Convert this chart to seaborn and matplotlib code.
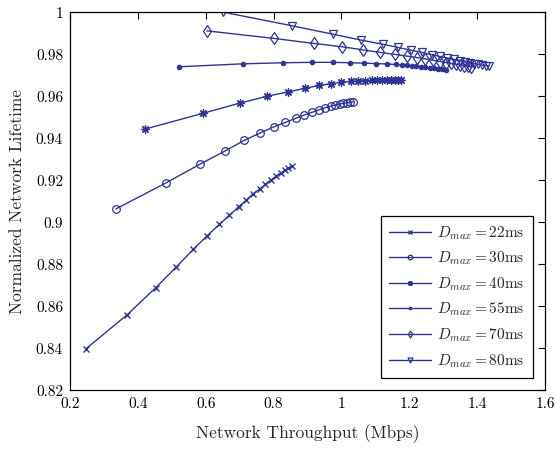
import matplotlib
matplotlib.use("Agg")
import matplotlib.pyplot as plt
import seaborn as sns
import pandas as pd
from matplotlib.ticker import FuncFormatter

# ---- data ----
x22 = [0.247, 0.369, 0.452, 0.513, 0.563, 0.604, 0.640, 0.670, 0.697, 0.720,
       0.740, 0.760, 0.776, 0.792, 0.807, 0.821, 0.833, 0.844, 0.854]
y22 = [0.8397, 0.8560, 0.8687, 0.8786, 0.8870, 0.8935, 0.8989, 0.9033, 0.9073, 0.9106,
       0.9135, 0.9159, 0.9180, 0.9200, 0.9218, 0.9233, 0.9246, 0.9257, 0.9267]

x30 = [0.335, 0.483, 0.583, 0.656, 0.713, 0.761, 0.801, 0.835, 0.865, 0.890,
       0.914, 0.934, 0.952, 0.968, 0.982, 0.995, 1.006, 1.016, 1.026, 1.035]
y30 = [0.9063, 0.9187, 0.9276, 0.9338, 0.9389, 0.9425, 0.9454, 0.9475, 0.9494, 0.9510,
       0.9523, 0.9535, 0.9545, 0.9552, 0.9558, 0.9562, 0.9566, 0.9569, 0.9571, 0.9573]

x40 = [0.421, 0.591, 0.701, 0.780, 0.842, 0.892, 0.934, 0.970, 1.000, 1.027,
       1.050, 1.071, 1.090, 1.106, 1.121, 1.134, 1.146, 1.157, 1.167, 1.177]
y40 = [0.9443, 0.9518, 0.9567, 0.9599, 0.9620, 0.9637, 0.9651, 0.9660, 0.9666, 0.9670,
       0.9672, 0.9674, 0.9675, 0.9676, 0.9677, 0.9677, 0.9677, 0.9677, 0.9677, 0.9677]

x55 = [0.522, 0.711, 0.828, 0.912, 0.974, 1.026, 1.068, 1.103, 1.135, 1.160,
       1.178, 1.193, 1.207, 1.221, 1.235, 1.248, 1.260, 1.272, 1.284, 1.296, 1.308]
y55 = [0.9740, 0.9754, 0.9759, 0.9761, 0.9761, 0.9759, 0.9757, 0.9755, 0.9753, 0.9751,
       0.9748, 0.9746, 0.9744, 0.9742, 0.9740, 0.9737, 0.9735, 0.9733, 0.9730, 0.9727, 0.9724]

x70 = [0.603, 0.801, 0.919, 1.003, 1.065, 1.115, 1.157, 1.192, 1.222, 1.248,
       1.270, 1.290, 1.308, 1.324, 1.338, 1.351, 1.362, 1.373, 1.383]
y70 = [0.9911, 0.9875, 0.9851, 0.9835, 0.9820, 0.9808, 0.9799, 0.9791, 0.9784, 0.9777,
       0.9771, 0.9765, 0.9760, 0.9756, 0.9752, 0.9748, 0.9745, 0.9742, 0.9740]

x80 = [0.652, 0.855, 0.975, 1.058, 1.122, 1.167, 1.205, 1.238, 1.266, 1.290,
       1.312, 1.332, 1.349, 1.364, 1.378, 1.391, 1.403, 1.414, 1.425, 1.435]
y80 = [1.0000, 0.9935, 0.9895, 0.9867, 0.9847, 0.9832, 0.9819, 0.9808, 0.9798, 0.9789,
       0.9782, 0.9775, 0.9769, 0.9764, 0.9759, 0.9755, 0.9751, 0.9748, 0.9745, 0.9743]

delays = ["22", "30", "40", "55", "70", "80"]
xticks = [0.2, 0.4, 0.6, 0.8, 1.0, 1.2, 1.4, 1.6]
yticks = [0.82, 0.84, 0.86, 0.88, 0.90, 0.92, 0.94, 0.96, 0.98, 1.0]

series = [(x22, y22), (x30, y30), (x40, y40), (x55, y55), (x70, y70), (x80, y80)]

# ---- style ----
sns.set_style("white")
plt.rcParams["font.family"] = ["cmr10", "DejaVu Serif"]
plt.rcParams["mathtext.fontset"] = "cm"
plt.rcParams["axes.formatter.use_mathtext"] = True
plt.rcParams["axes.unicode_minus"] = False

color = "#2E3592"
markers = {
    "22": dict(marker="x", ms=5, mew=1.0, mfc=color),
    "30": dict(marker="o", ms=5.5, mew=0.9, mfc="none"),
    "40": dict(marker=(8, 2, 0), ms=6, mew=0.9, mfc=color),
    "55": dict(marker="o", ms=3.2, mew=0.8, mfc=color),
    "70": dict(marker="d", ms=6, mew=0.9, mfc="none"),
    "80": dict(marker="v", ms=6, mew=0.9, mfc="none"),
}

fig = plt.figure(figsize=(5.56, 4.5), dpi=100)
ax = fig.add_axes([0.126, 0.133, 0.854, 0.840])

for d, (xs, ys) in zip(delays, series):
    df = pd.DataFrame({"x": xs, "y": ys})
    m = markers[d]
    sns.lineplot(data=df, x="x", y="y", ax=ax, sort=False, color=color,
                 lw=1.0, marker=m["marker"], markersize=m["ms"],
                 markeredgewidth=m["mew"], markerfacecolor=m["mfc"],
                 markeredgecolor=color,
                 label=r"$D_{max} = %s\mathrm{ms}$" % d)

ax.set_xlim(0.2, 1.6)
ax.set_ylim(0.82, 1.0)
ax.set_xticks(xticks)
ax.set_yticks(yticks)
fmt = FuncFormatter(lambda v, p: ("%g" % round(v, 4)))
ax.xaxis.set_major_formatter(fmt)
ax.yaxis.set_major_formatter(fmt)
ax.tick_params(direction="in", top=True, right=True, length=5, width=0.8,
               labelsize=11, colors="black", pad=5)
for s in ax.spines.values():
    s.set_color("black")
    s.set_linewidth(0.9)

ax.set_xlabel("Network Throughput (Mbps)", fontsize=12.5, labelpad=10)
ax.set_ylabel("Normalized Network Lifetime", fontsize=12.5, labelpad=8)

leg = ax.legend(loc="lower right", fontsize=11, frameon=True, fancybox=False,
                edgecolor="black", framealpha=1, handlelength=2.7,
                markerscale=0.6,
                borderaxespad=0.8, labelspacing=0.52, handletextpad=0.4,
                borderpad=0.55)
leg.get_frame().set_linewidth(0.9)

fig.savefig("out.png", dpi=100)
